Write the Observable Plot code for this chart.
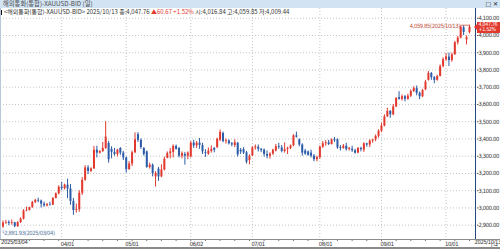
<!DOCTYPE html>
<html>
<head>
<meta charset="utf-8">
<script src="https://cdn.jsdelivr.net/npm/d3@7"></script>
<script src="https://cdn.jsdelivr.net/npm/@observablehq/plot@0.6"></script>
<style>
  html, body { margin:0; padding:0; background:#fff; width:500px; height:249px; overflow:hidden; }
  #wrap { position:relative; width:500px; height:249px; font-family:"Liberation Sans","Noto Sans CJK KR",sans-serif; }
  #titlebar { position:relative; height:8px; background:#d2e4f4; color:#4d4d4d; font-size:6.3px; line-height:8px; padding-left:3px; box-sizing:border-box; white-space:nowrap; font-family:"Noto Sans CJK KR",sans-serif; }
  #titlebar .icons { position:absolute; right:2px; top:0; color:#222; font-size:6px; font-family:"DejaVu Sans",sans-serif; }
  #info { position:absolute; left:1px; top:8px; height:7px; font-size:6px; line-height:7px; color:#333; white-space:nowrap; font-family:"Noto Sans CJK KR",sans-serif; }
  #info .bar { display:inline-block; width:1px; height:5px; background:#111; margin-right:2px; vertical-align:-0.5px; }
  #info .up { color:#e2392e; }
  .ovl { position:absolute; }
  #pbox { position:absolute; left:477px; width:23px; height:11px; background:#e2392e; color:#fff; font-size:5.3px; line-height:5.2px; text-align:left; padding-left:1.5px; box-sizing:border-box; font-family:"DejaVu Sans Condensed","Liberation Sans",sans-serif; letter-spacing:-0.3px; padding-top:0.5px; }
  #parrow { position:absolute; left:474px; width:0; height:0; border-top:3px solid transparent; border-bottom:3px solid transparent; border-right:3px solid #e2392e; }
</style>
</head>
<body>
<div id="wrap">
  <div id="titlebar"><span id="title"></span><span class="icons">□ ✕</span></div>
  <div id="chart"></div>
  <div id="info"></div>
</div>
<script>
// ---- labels / categories ----
const symbol = "해외통화(통합)-XAUUSD-BID";
const period = "일";
const firstDay = "2025-03-04";
const lastDay = "2025-10-13";
const monthLabels = ["04/01", "05/01", "06/02", "07/01", "08/01", "09/01", "10/01"];
const priceTicks = [2900, 3000, 3100, 3200, 3300, 3400, 3500, 3600, 3700, 3800, 3900, 4000, 4100];
const prevClose = 3987.09;
const yDomain = [2817, 4156.6];

// ---- OHLC series (one value per trading day) ----
const open = [
  // Mar
  2890,2912,2916,2910,2914,2892,2915,2935,2982,2986,3002,3032,3044,3040,3022,3012,3019,3016,3055,3082,
  // Apr
  3120,3112,3132,3110,3038,2985,2990,3085,3160,3232,3212,3226,3335,3318,3327,3345,3374,3340,3322,3310,3345,3318,
  // May
  3290,3222,3255,3320,3425,3392,3345,3325,3235,3248,3180,3225,3180,3220,3288,3315,3322,3357,3345,3300,3310,3300,
  // Jun
  3295,3376,3360,3376,3362,3320,3312,3328,3345,3350,3392,3432,3385,3388,3372,3362,3375,3335,3338,3320,3275,
  // Jul
  3302,3348,3352,3340,3335,3310,3300,3312,3330,3355,3348,3328,3340,3345,3360,3418,3395,3365,3330,3325,3318,3300,3280,
  // Aug
  3292,3352,3372,3378,3368,3395,3395,3350,3345,3358,3340,3340,3332,3318,3345,3335,3372,3365,3388,3395,3415,
  // Sep
  3445,3475,3528,3560,3540,3586,3640,3630,3645,3630,3648,3675,3692,3665,3645,3685,3740,3780,3755,3740,3762,3820,
  // Oct
  3860,3875,3855,3888,3958,3985,4045,3975,4016.84
];
const high = [
  2925,2928,2926,2930,2917,2920,2943,2990,3005,3004,3038,3050,3057,3046,3034,3026,3033,3060,3087,3128,
  3149,3138,3167,3136,3055,3023,3100,3176,3245,3245,3233,3357,3358,3332,3380,3500,3386,3355,3345,3340,3350,3328,
  3295,3269,3330,3435,3437,3400,3350,3330,3260,3255,3210,3235,3250,3295,3325,3345,3366,3365,3350,3325,3322,3325,
  3385,3392,3385,3403,3375,3338,3348,3360,3350,3405,3452,3440,3400,3395,3380,3395,3380,3345,3350,3328,3308,
  3355,3365,3365,3345,3342,3330,3320,3340,3368,3375,3362,3377,3352,3365,3425,3440,3400,3372,3340,3330,3335,3310,3300,
  3360,3385,3390,3392,3400,3409,3400,3362,3368,3375,3350,3358,3340,3350,3352,3378,3375,3395,3398,3423,3453,
  3490,3540,3578,3565,3600,3640,3674,3655,3652,3660,3685,3703,3707,3672,3688,3740,3791,3785,3762,3770,3830,3871,
  3895,3898,3898,3965,3995,4055,4056,3998,4059.85
];
const low = [
  2881.93,2905,2897,2900,2885,2887,2910,2930,2978,2982,2998,3025,3030,2999,3004,3006,3011,3014,3052,3076,
  3100,3104,3054,3015,2957,2970,2975,3072,3155,3194,3205,3224,3290,3312,3322,3340,3260,3285,3300,3295,3305,3275,
  3202,3218,3240,3315,3380,3340,3300,3230,3225,3180,3121,3154,3175,3215,3285,3285,3290,3335,3290,3285,3248,3280,
  3290,3345,3345,3340,3310,3293,3305,3318,3320,3345,3385,3378,3370,3365,3355,3350,3295,3310,3310,3255,3250,
  3298,3335,3325,3320,3295,3285,3283,3305,3325,3340,3320,3318,3310,3338,3355,3405,3355,3300,3305,3300,3290,3268,3268,
  3282,3345,3358,3362,3365,3380,3340,3330,3340,3330,3330,3322,3312,3315,3325,3322,3352,3350,3375,3385,3405,
  3436,3470,3525,3520,3535,3582,3625,3620,3615,3625,3640,3670,3650,3628,3640,3680,3735,3740,3720,3735,3760,3812,
  3850,3820,3845,3885,3945,3980,4000,3945,4009.44
];
const close = [
  2912,2916,2910,2914,2892,2915,2935,2982,2986,3002,3032,3044,3040,3022,3012,3019,3016,3055,3082,3120,
  3112,3132,3110,3038,2985,2990,3085,3160,3232,3212,3226,3335,3318,3327,3345,3411,3280,3322,3310,3335,3318,3290,
  3222,3255,3320,3395,3392,3350,3310,3235,3248,3200,3200,3180,3220,3282,3315,3325,3357,3340,3300,3315,3300,3318,
  3376,3360,3376,3362,3325,3315,3330,3340,3335,3398,3438,3385,3390,3372,3366,3378,3308,3325,3318,3265,3300,
  3348,3354,3340,3333,3310,3300,3312,3335,3355,3350,3328,3338,3346,3360,3418,3410,3365,3318,3312,3305,3300,3280,3292,
  3352,3372,3377,3368,3395,3390,3348,3345,3358,3338,3346,3332,3318,3345,3338,3372,3365,3388,3395,3415,3445,
  3475,3528,3560,3540,3586,3635,3630,3645,3630,3648,3675,3692,3665,3645,3680,3730,3780,3755,3740,3762,3820,3860,
  3875,3855,3888,3958,3985,4048,4018,3987.09,4047.76
];

// ---- build table ----
const days = d3.utcDay.range(new Date(firstDay), d3.utcDay.offset(new Date(lastDay), 1))
  .filter(d => d.getUTCDay() % 6 !== 0);
const fmtMD = d3.utcFormat("%m/%d");
const fmtYMD = d3.utcFormat("%Y/%m/%d");
const candles = days.map((d, i) => ({i, date: d, o: open[i], h: high[i], l: low[i], c: close[i]}));
const n = candles.length;
const monthIdx = monthLabels.map(lbl => days.findIndex(d => fmtMD(d) === lbl));
const weekIdx = candles.filter(d => d.date.getUTCDay() === 1).map(d => d.i);

const RED = "#e2392e", BLUE = "#2c5ca8";
const col = d => (d.c >= d.o ? RED : BLUE);
const fmt2 = d3.format(",.2f");
const maxI = d3.maxIndex(high), minI = d3.minIndex(low);
const last = candles[n - 1];

const axisFont = "'Liberation Sans Narrow','DejaVu Sans Condensed','Liberation Sans',sans-serif";

const chart = Plot.plot({
  width: 500, height: 241,
  marginTop: 0, marginRight: 24, marginBottom: 10, marginLeft: 0,
  style: {background: "transparent", fontFamily: axisFont, fontSize: "5.8px", letterSpacing: "-0.35px", color: "#333", overflow: "visible"},
  x: {domain: [-0.85, n + 1.39], axis: null},
  y: {domain: yDomain, axis: null},
  color: {type: "identity"},
  marks: [
    Plot.gridY(priceTicks, {stroke: "#c4c4c4", strokeOpacity: 1, strokeDasharray: "1,2"}),
    Plot.gridX(monthIdx, {stroke: "#c4c4c4", strokeOpacity: 1, strokeDasharray: "1,2"}),
    Plot.axisY(priceTicks, {anchor: "right", tickSize: 1.5, tickPadding: 0.5, tickFormat: fmt2, stroke: "#555", fill: "#333"}),
    // weekly tick marks below the axis line
    Plot.ruleX(weekIdx, {y1: yDomain[0], y2: yDomain[0] - 12, stroke: "#777", clip: false}),
    Plot.axisX(monthIdx, {anchor: "bottom", tickSize: 0, tickPadding: 2, tickFormat: d => monthLabels[monthIdx.indexOf(d)], textAnchor: "start", dx: -1, fill: "#333"}),
    Plot.text([candles[0]], {x: "i", text: d => fmtYMD(d.date), frameAnchor: "bottom", textAnchor: "start", dx: -2, dy: 4.5, fill: "#333"}),
    Plot.text([last], {x: "i", text: d => fmtYMD(d.date), frameAnchor: "bottom", textAnchor: "start", dx: 5, dy: 4.5, fill: "#333"}),
    // candles
    Plot.ruleX(candles, {x: "i", y1: "l", y2: "h", stroke: col, strokeWidth: 1}),
    Plot.ruleX(candles, {x: "i", y1: "o", y2: "c", stroke: col, strokeWidth: 2}),
    // max annotation
    Plot.ruleY([candles[maxI]], {y: "h", x1: d => d.i - 2.9, x2: "i", stroke: "#c8553f", strokeWidth: 0.8}),
    Plot.text([candles[maxI]], {x: d => d.i - 2.9, y: "h", text: d => `${fmt2(d.h)}(${fmtYMD(d.date)})`, textAnchor: "end", dx: -1, dy: 0.5, fill: "#c0503e"}),
    // min annotation
    Plot.text([candles[minI]], {x: "i", y: "l", text: d => `└${fmt2(d.l)}(${fmtYMD(d.date)})`, textAnchor: "start", dx: -1.5, dy: 4.5, fill: "#5577a0"})
  ]
});
document.getElementById("chart").appendChild(chart);

// ---- texts ----
document.getElementById("title").textContent = `${symbol} (${period})`;
const chg = last.c - prevClose;
const pct = chg / prevClose * 100;
document.getElementById("info").innerHTML =
  `<span class="bar"></span>&lt;${symbol}&gt; ${fmtYMD(last.date)} 종:${fmt2(last.c)} ` +
  `<span class="up">▲${fmt2(chg)} +${pct.toFixed(2)}%</span> ` +
  `시:${fmt2(last.o)} 고:${fmt2(last.h)} 저:${fmt2(last.l)}`;

// ---- frame lines & current price tag ----
const wrap = document.getElementById("wrap");
const top0 = 8;
function line(l, t, w, h, c) {
  const e = document.createElement("div");
  e.className = "ovl";
  Object.assign(e.style, {left: l + "px", top: t + "px", width: w + "px", height: h + "px", background: c});
  wrap.appendChild(e);
}
line(0, top0, 1, 231, "#b7c7d8");       // left border
line(475, top0, 1, 231, "#27477c");     // right border of plot
line(0, top0 + 231, 500, 1, "#8c8c8c"); // x axis line
line(0, 247, 500, 2, "#8a8a8a");        // bottom border

const yLast = top0 + chart.scale("y").apply(last.c);
const box = document.createElement("div");
box.id = "pbox";
box.style.top = (yLast - 5) + "px";
box.innerHTML = `${fmt2(last.c)}<br>+${pct.toFixed(2)}%`;
wrap.appendChild(box);
const arr = document.createElement("div");
arr.id = "parrow";
arr.style.top = (yLast - 3) + "px";
wrap.appendChild(arr);
</script>
</body>
</html>
